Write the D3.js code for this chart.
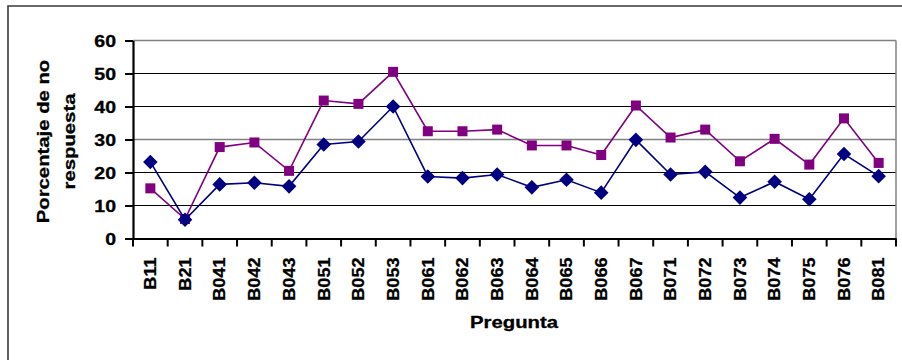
<!DOCTYPE html>
<html>
<head>
<meta charset="utf-8">
<script src="https://cdn.jsdelivr.net/npm/d3@7"></script>
<style>
  body { margin: 0; background: #fff; }
  svg { display: block; font-family: "Liberation Sans", Arial, sans-serif; }
  text { stroke: #000; stroke-width: 0.3px; }
</style>
</head>
<body>
<script>
var svgWidth = 902;
var svgHeight = 360;

// data
var categories = ["B11", "B21", "B041", "B042", "B043", "B051", "B052", "B053", "B061", "B062", "B063",
                  "B064", "B065", "B066", "B067", "B071", "B072", "B073", "B074", "B075", "B076", "B081"];
var serieAzul = [23.2, 5.7, 16.4, 16.9, 15.8, 28.5, 29.4, 40, 18.8, 18.3, 19.4,
                 15.5, 17.8, 13.9, 29.9, 19.4, 20.2, 12.4, 17.2, 11.9, 25.6, 18.9];
var serieMorada = [15.2, 5.9, 27.7, 29.1, 20.5, 41.8, 40.8, 50.5, 32.5, 32.5, 33,
                   28.2, 28.2, 25.3, 40.3, 30.6, 33, 23.4, 30.2, 22.4, 36.4, 22.9];
var yTicks = [0, 10, 20, 30, 40, 50, 60];

var plot = { left: 133, right: 896, top: 40.5, bottom: 238.5 };

var svg = d3.select("body").append("svg")
    .attr("width", svgWidth)
    .attr("height", svgHeight);

// outer chart frame (runs past the picture on right and bottom)
svg.append("path")
    .attr("d", "M8,370 L8,6 L910,6")
    .attr("fill", "none")
    .attr("stroke", "#3a3a3a")
    .attr("stroke-width", 1.6);

var x = d3.scaleBand().domain(categories).range([plot.left, plot.right]).padding(0);
var y = d3.scaleLinear().domain([0, 60]).range([plot.bottom, plot.top]);

// gridlines
svg.append("g").selectAll("line")
    .data(yTicks.filter(d => d > 0))
    .enter().append("line")
    .attr("x1", plot.left).attr("x2", plot.right)
    .attr("y1", d => y(d)).attr("y2", d => y(d))
    .attr("stroke", d => (d === 60 || d === 30) ? "#808080" : "#000")
    .attr("stroke-width", d => (d === 60 || d === 30) ? 1.5 : 1.2);

// right border of plot area
svg.append("line")
    .attr("x1", plot.right).attr("x2", plot.right)
    .attr("y1", plot.top).attr("y2", plot.bottom)
    .attr("stroke", "#808080").attr("stroke-width", 1.5);

// y axis
var yAxis = svg.append("g")
    .attr("transform", `translate(${plot.left},0)`)
    .call(d3.axisLeft(y).tickValues(yTicks).tickSize(8).tickSizeOuter(0));
yAxis.select(".domain").attr("stroke", "#000").attr("stroke-width", 2.2);
yAxis.selectAll(".tick line").attr("stroke", "#000").attr("stroke-width", 2);
yAxis.selectAll(".tick text")
    .attr("x", 0)
    .attr("dy", "0.36em")
    .attr("transform", "translate(-17,0) scale(1.22,1)")
    .attr("text-anchor", "end")
    .attr("fill", "#000")
    .style("font-size", "16px")
    .style("font-weight", "bold");

// x axis
var xAxis = svg.append("g")
    .attr("transform", `translate(0,${plot.bottom})`)
    .call(d3.axisBottom(x).tickSize(0).tickSizeOuter(0));
xAxis.select(".domain").attr("stroke", "#000").attr("stroke-width", 2.2);
xAxis.selectAll(".tick text")
    .attr("x", 0).attr("y", 0)
    .attr("dy", "0.36em")
    .attr("transform", "translate(0,19) rotate(-90) scale(1.13,1)")
    .attr("text-anchor", "end")
    .attr("fill", "#000")
    .style("font-size", "16px")
    .style("font-weight", "bold");

// tick marks between categories
var boundaries = categories.map(c => x(c)).concat([x.range()[1]]);
svg.append("g").selectAll("line")
    .data(boundaries)
    .enter().append("line")
    .attr("x1", d => d).attr("x2", d => d)
    .attr("y1", plot.bottom).attr("y2", plot.bottom + 8)
    .attr("stroke", "#000").attr("stroke-width", 2);

var cx = d => x(d) + x.bandwidth() / 2;
var line = d3.line().x((d, i) => cx(categories[i])).y(d => y(d));

// purple series (squares)
svg.append("path")
    .datum(serieMorada)
    .attr("d", line)
    .attr("fill", "none")
    .attr("stroke", "#800080")
    .attr("stroke-width", 1.6);
svg.append("g").selectAll("rect")
    .data(serieMorada)
    .enter().append("rect")
    .attr("x", (d, i) => cx(categories[i]) - 5)
    .attr("y", d => y(d) - 5)
    .attr("width", 10).attr("height", 10)
    .attr("fill", "#800080");

// navy series (diamonds)
svg.append("path")
    .datum(serieAzul)
    .attr("d", line)
    .attr("fill", "none")
    .attr("stroke", "#000080")
    .attr("stroke-width", 1.6);
svg.append("g").selectAll("path")
    .data(serieAzul)
    .enter().append("path")
    .attr("d", "M0,-7.3 L7.3,0 L0,7.3 L-7.3,0 Z")
    .attr("transform", (d, i) => `translate(${cx(categories[i])},${y(d)})`)
    .attr("fill", "#000080");

// axis titles
svg.append("text")
    .attr("transform", "translate(514,328) scale(1.27,1)")
    .attr("text-anchor", "middle")
    .style("font-size", "16px")
    .style("font-weight", "bold")
    .text("Pregunta");

var yTitle = ["Porcentaje de no", "respuesta"];
svg.append("g").selectAll("text")
    .data(yTitle)
    .enter().append("text")
    .attr("transform", (d, i) => `translate(${49 + i * 26},141.5) rotate(-90) scale(1.27,1)`)
    .attr("text-anchor", "middle")
    .style("font-size", "16px")
    .style("font-weight", "bold")
    .text(d => d);
</script>
</body>
</html>
